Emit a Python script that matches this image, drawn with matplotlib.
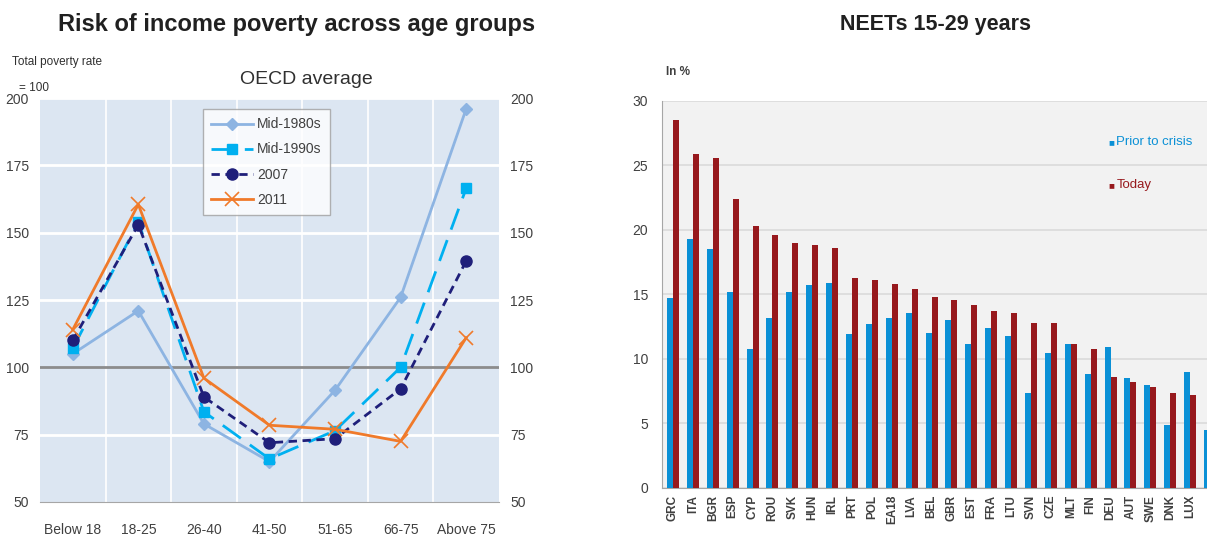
import matplotlib
matplotlib.use("Agg")
import matplotlib.pyplot as plt
import numpy as np

# ---- Left panel data: risk of income poverty by age (total = 100) ----
age_groups = ["Below 18", "18-25", "26-40", "41-50", "51-65", "66-75", "Above 75"]
mid_1980s = [105, 121, 79, 65, 91.5, 126, 196]
mid_1990s = [107, 154, 83.5, 66, 76.5, 100, 166.5]
y2007 = [110, 153, 89, 72, 73.5, 92, 139.5]
y2011 = [114, 160.5, 96, 78.5, 77, 72.5, 111]

# ---- Right panel data: NEETs 15-29 years, in % ----
countries = ["GRC", "ITA", "BGR", "ESP", "CYP", "ROU", "SVK", "HUN", "IRL", "PRT",
             "POL", "EA18", "LVA", "BEL", "GBR", "EST", "FRA", "LTU", "SVN", "CZE",
             "MLT", "FIN", "DEU", "AUT", "SWE", "DNK", "LUX", "NLD"]
prior_to_crisis = [14.7, 19.3, 18.5, 15.2, 10.8, 13.2, 15.2, 15.7, 15.9, 11.9,
                   12.7, 13.2, 13.6, 12.0, 13.0, 11.2, 12.4, 11.8, 7.4, 10.5,
                   11.2, 8.8, 10.9, 8.5, 8.0, 4.9, 9.0, 4.5]
today = [28.5, 25.9, 25.6, 22.4, 20.3, 19.6, 19.0, 18.8, 18.6, 16.3,
         16.1, 15.8, 15.4, 14.8, 14.6, 14.2, 13.7, 13.6, 12.8, 12.8,
         11.2, 10.8, 8.6, 8.2, 7.8, 7.4, 7.2, 6.0]

plt.rcParams["font.family"] = ["Liberation Sans", "DejaVu Sans"]

fig = plt.figure(figsize=(12.07, 5.4), dpi=100)

# ================= Left panel =================
ax = fig.add_axes([0.0331, 0.0704, 0.3803, 0.748])
ax.set_facecolor("#DCE6F2")
x = np.arange(len(age_groups))

ax.plot(x, mid_1980s, color="#8DB4E2", lw=2, marker="D", ms=6,
        label="Mid-1980s", zorder=3)
ax.plot(x, mid_1990s, color="#00B0F0", lw=2, ls=(0, (8, 4)), marker="s", ms=7,
        label="Mid-1990s", zorder=4)
ax.plot(x, y2007, color="#1F1F7A", lw=2, ls=(0, (3, 2)), marker="o", ms=8,
        label="2007", zorder=5)
ax.plot(x, y2011, color="#F07A2A", lw=2, marker="x", ms=10, mew=1.2,
        label="2011", zorder=6)

ax.set_xlim(-0.5, len(age_groups) - 0.5)
ax.set_ylim(50, 200)
ax.set_yticks(np.arange(50, 201, 25))
ax.set_xticks(x)
ax.set_xticklabels(age_groups)
for v in np.arange(0.5, len(age_groups) - 1, 1):
    ax.axvline(v, color="white", lw=1.2, zorder=1)
for v in [75, 125, 150, 175, 200]:
    ax.axhline(v, color="white", lw=2, zorder=1)
ax.axhline(100, color="#8C8C8C", lw=2, zorder=2)
for s in ["top", "right", "left"]:
    ax.spines[s].set_visible(False)
ax.spines["bottom"].set_color("#A6A6A6")
ax.tick_params(axis="y", length=0, labelsize=10, colors="#404040",
               labelright=True, pad=8)
ax.tick_params(axis="x", length=0, labelsize=10, colors="#404040", pad=15)

leg = ax.legend(loc="upper left", bbox_to_anchor=(0.34, 0.99), fontsize=10,
                frameon=True, fancybox=False, edgecolor="#A0A0A0",
                handlelength=3.0, labelspacing=0.8, borderpad=0.6,
                handletextpad=0.3, labelcolor="#404040")
leg.get_frame().set_linewidth(1.0)

fig.text(0.254, 0.853, "OECD average", ha="center", va="center", fontsize=14,
         color="#303030",
         bbox=dict(facecolor="white", edgecolor="none", pad=4))
fig.text(0.010, 0.880, "Total poverty rate", fontsize=8.5, color="#303030")
fig.text(0.016, 0.832, "= 100", fontsize=8.5, color="#303030")
fig.text(0.246, 0.955, "Risk of income poverty across age groups", ha="center",
         va="center", fontsize=17, fontweight="bold", color="#202020")

# ================= Right panel =================
ax2 = fig.add_axes([0.5485, 0.0963, 0.4515, 0.7167])
ax2.set_facecolor("#F2F2F2")
xc = np.arange(len(countries))
w = 0.3
ax2.bar(xc - w / 2, prior_to_crisis, width=w, color="#0A90D6", zorder=3,
        label="Prior to crisis")
ax2.bar(xc + w / 2, today, width=w, color="#97191D", zorder=3, label="Today")
ax2.set_xlim(-0.55, 26.85)
ax2.set_ylim(0, 30)
ax2.set_yticks(np.arange(0, 31, 5))
ax2.yaxis.grid(True, color="#DADADA", lw=1.2, zorder=0)
# last category is cut by the panel edge, so only label the visible ones
ax2.set_xticks(xc[:-1])
ax2.set_xticklabels(countries[:-1], rotation=90, fontsize=8.5,
                    fontweight="bold", color="#404040")
ax2.tick_params(axis="x", length=0, pad=5)
ax2.tick_params(axis="y", length=0, labelsize=10, colors="#404040", pad=10)
for s in ["top", "right"]:
    ax2.spines[s].set_visible(False)
ax2.spines["left"].set_color("#A6A6A6")
ax2.spines["bottom"].set_color("#A6A6A6")

fig.text(0.918, 0.737, "\u25a0", fontsize=7, color="#0A90D6", va="center")
fig.text(0.925, 0.737, "Prior to crisis", fontsize=9.5, color="#0A90D6",
         va="center")
fig.text(0.918, 0.657, "\u25a0", fontsize=7, color="#97191D", va="center")
fig.text(0.925, 0.657, "Today", fontsize=9.5, color="#97191D", va="center")
fig.text(0.552, 0.862, "In %", fontsize=8.5, fontweight="bold", color="#404040")
fig.text(0.775, 0.955, "NEETs 15-29 years", ha="center", va="center",
         fontsize=15.5, fontweight="bold", color="#202020")

fig.savefig("out.png", dpi=100)
